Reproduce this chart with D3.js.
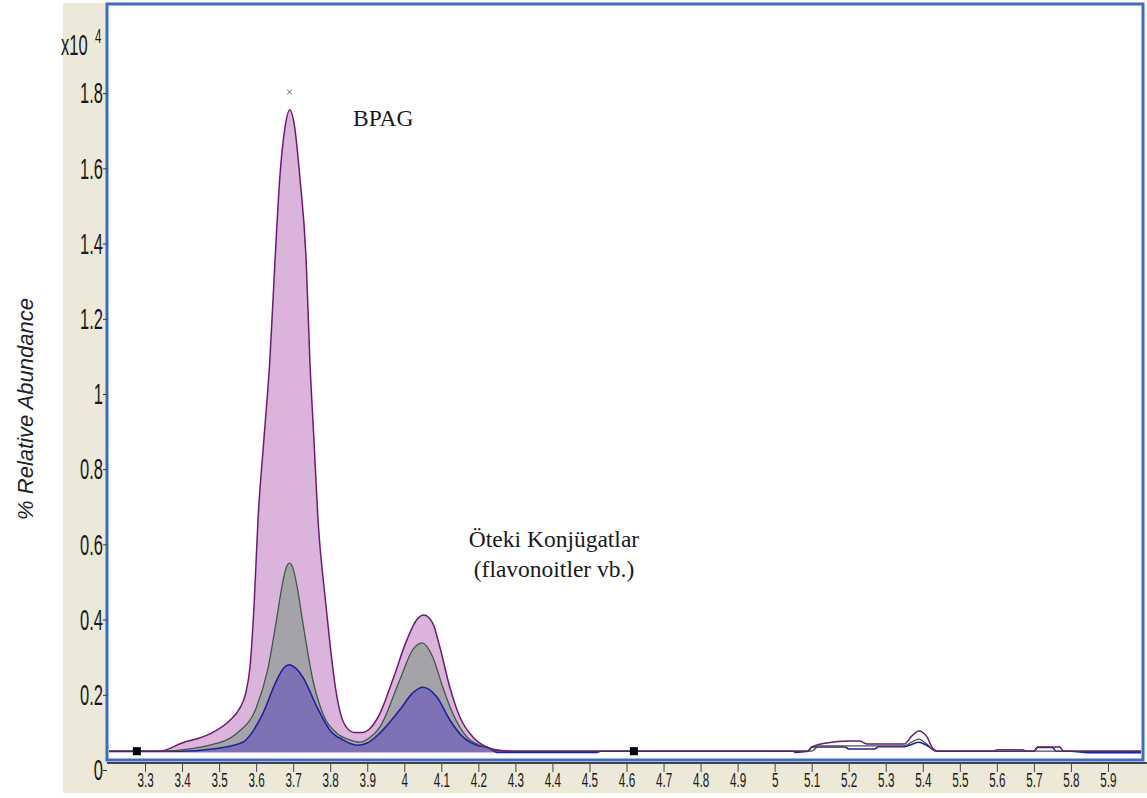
<!DOCTYPE html>
<html>
<head>
<meta charset="utf-8">
<script src="https://cdn.jsdelivr.net/npm/d3@7"></script>
<style>
body { margin: 0; background: #ffffff; }
svg { display: block; }
</style>
</head>
<body>
<div id="chart"></div>
<script>
// retention time ticks (min) and abundance ticks (x10^4)
var rtTicks = [3.3, 3.4, 3.5, 3.6, 3.7, 3.8, 3.9, 4, 4.1, 4.2, 4.3, 4.4, 4.5, 4.6, 4.7, 4.8, 4.9,
	5, 5.1, 5.2, 5.3, 5.4, 5.5, 5.6, 5.7, 5.8, 5.9];
var abundanceTicks = [0, 0.2, 0.4, 0.6, 0.8, 1, 1.2, 1.4, 1.6, 1.8];

// traces: [retention time, abundance x10^4]
var bpagTrace = [
	[3.20, 0.05], [3.34, 0.05], [3.40, 0.072], [3.475, 0.096], [3.53, 0.133], [3.555, 0.163],
	[3.572, 0.205], [3.584, 0.28], [3.594, 0.43], [3.605, 0.665], [3.621, 0.88], [3.637, 1.09],
	[3.651, 1.356], [3.664, 1.577], [3.678, 1.71], [3.691, 1.755], [3.704, 1.71], [3.718, 1.577],
	[3.735, 1.356], [3.745, 1.09], [3.756, 0.88], [3.767, 0.665], [3.785, 0.47], [3.80, 0.33],
	[3.814, 0.22], [3.828, 0.15], [3.845, 0.112], [3.865, 0.10], [3.888, 0.10], [3.91, 0.113],
	[3.934, 0.15], [3.969, 0.24], [4.007, 0.346], [4.034, 0.40], [4.053, 0.412], [4.077, 0.39],
	[4.096, 0.327], [4.123, 0.22], [4.150, 0.141], [4.185, 0.088], [4.223, 0.061], [4.239, 0.055],
	[4.30, 0.05],
	[5.09, 0.05], [5.10, 0.061], [5.14, 0.072], [5.20, 0.077], [5.23, 0.077], [5.25, 0.069],
	[5.35, 0.069], [5.37, 0.09], [5.389, 0.104], [5.41, 0.09], [5.427, 0.058], [5.44, 0.05],
	[5.70, 0.05], [5.71, 0.061], [5.77, 0.061], [5.78, 0.05], [6.0, 0.05]
];
var greyTrace = [
	[3.20, 0.05], [3.348, 0.05], [3.42, 0.056], [3.475, 0.066], [3.548, 0.098], [3.60, 0.165],
	[3.632, 0.27], [3.655, 0.40], [3.67, 0.49], [3.68, 0.535], [3.69, 0.55], [3.70, 0.535],
	[3.712, 0.48], [3.728, 0.38], [3.753, 0.24], [3.780, 0.15], [3.818, 0.098], [3.853, 0.08],
	[3.880, 0.074], [3.905, 0.085], [3.934, 0.114], [3.988, 0.24], [4.023, 0.32], [4.048, 0.338],
	[4.077, 0.30], [4.104, 0.22], [4.131, 0.15], [4.169, 0.088], [4.204, 0.066], [4.231, 0.058],
	[4.26, 0.05],
	[5.10, 0.05], [5.12, 0.064], [5.35, 0.064], [5.37, 0.074], [5.389, 0.082], [5.41, 0.07],
	[5.435, 0.05], [5.59, 0.05], [5.60, 0.054], [5.67, 0.054], [5.68, 0.05], [6.0, 0.05]
];
var blueTrace = [
	[3.20, 0.05], [3.40, 0.05], [3.475, 0.055], [3.564, 0.074], [3.618, 0.15], [3.656, 0.24],
	[3.675, 0.272], [3.689, 0.28], [3.705, 0.272], [3.726, 0.247], [3.764, 0.168], [3.799, 0.106],
	[3.834, 0.08], [3.872, 0.066], [3.90, 0.072], [3.934, 0.098], [3.988, 0.16], [4.023, 0.205],
	[4.05, 0.22], [4.088, 0.194], [4.123, 0.133], [4.158, 0.088], [4.196, 0.066], [4.231, 0.058],
	[4.25, 0.047], [4.52, 0.047], [4.53, 0.05], [5.05, 0.05], [5.055, 0.047], [5.09, 0.05],
	[5.10, 0.061], [5.19, 0.061], [5.20, 0.056], [5.27, 0.056], [5.28, 0.062], [5.35, 0.062],
	[5.37, 0.068], [5.389, 0.074], [5.41, 0.066], [5.438, 0.05], [5.70, 0.05], [5.71, 0.06],
	[5.75, 0.06], [5.76, 0.05], [5.80, 0.05], [5.846, 0.046], [6.0, 0.046]
];

var markerTimes = [3.278, 4.62];
var markerLevel = 0.05;
var apexMark = [3.69, 1.803];
var fillFloor = 0.047;
var fillEnd = 4.3;

var width = 1147, height = 798;

var svg = d3.select("#chart")
	.append("svg")
		.attr("width", width)
		.attr("height", height);

var x = d3.scaleLinear().domain([3.2, 6.0]).range([108, 1145]);
var y = d3.scaleLinear().domain([0, 2]).range([770, 18]);

// beige panel strips (left and bottom)
svg.append("rect").attr("x", 63).attr("y", 3).attr("width", 45).attr("height", 790).attr("fill", "#ece9d8");
svg.append("rect").attr("x", 63).attr("y", 762).attr("width", 1084).attr("height", 31).attr("fill", "#ece9d8");

// plot frame
svg.append("rect")
	.attr("x", 107).attr("y", 4).attr("width", 1036).attr("height", 756)
	.attr("fill", "#ffffff")
	.attr("stroke", "#3a6cc8")
	.attr("stroke-width", 3);

svg.append("clipPath").attr("id", "plotclip")
	.append("rect").attr("x", 109).attr("y", 6).attr("width", 1032).attr("height", 752);

var plot = svg.append("g").attr("clip-path", "url(#plotclip)");

var traces = [
	{ data: bpagTrace, fill: "#dab4da", stroke: "#6e1a72", sw: 1.5 },
	{ data: greyTrace, fill: "#a3a3a8", stroke: "#3d5a48", sw: 1.3 },
	{ data: blueTrace, fill: "#7f72b4", stroke: "#1f1fa8", sw: 1.6 }
];

var area = d3.area()
	.x(function(d) { return x(d[0]); })
	.y0(y(fillFloor))
	.y1(function(d) { return y(d[1]); })
	.curve(d3.curveMonotoneX);

var line = d3.line()
	.x(function(d) { return x(d[0]); })
	.y(function(d) { return y(d[1]); })
	.curve(d3.curveMonotoneX);

// filled areas only under the two main peaks
traces.forEach(function(t) {
	plot.append("path")
		.datum(t.data.filter(function(d) { return d[0] <= fillEnd; }))
		.attr("d", area)
		.attr("fill", t.fill);
});

// outlines, pink last so it sits on the common baseline
traces.slice().reverse().forEach(function(t) {
	plot.append("path")
		.datum(t.data)
		.attr("d", line)
		.attr("fill", "none")
		.attr("stroke", t.stroke)
		.attr("stroke-width", t.sw);
});

// integration markers
plot.selectAll(".marker")
	.data(markerTimes).enter()
	.append("rect")
		.attr("class", "marker")
		.attr("x", function(d) { return x(d) - 4; })
		.attr("y", y(markerLevel) - 4)
		.attr("width", 8).attr("height", 8)
		.attr("fill", "#000");

// apex cross
var ax = x(apexMark[0]), ay = y(apexMark[1]);
plot.append("path")
	.attr("d", "M" + (ax - 2.5) + "," + (ay - 2.5) + "L" + (ax + 2.5) + "," + (ay + 2.5) +
		"M" + (ax + 2.5) + "," + (ay - 2.5) + "L" + (ax - 2.5) + "," + (ay + 2.5))
	.attr("stroke", "#7a5a7a").attr("stroke-width", 1);

// y axis
var yAxis = svg.append("g")
	.attr("transform", "translate(107,0)")
	.style("color", "#333")
	.call(d3.axisLeft(y).tickValues(abundanceTicks).tickFormat(d3.format("~g")).tickSize(4).tickPadding(0));
yAxis.select(".domain").remove();
yAxis.selectAll("text")
	.attr("x", -4 / 0.55)
	.attr("transform", "scale(0.55,1)")
	.style("font-family", "'Liberation Sans', Arial, sans-serif")
	.style("font-size", "30px")
	.style("fill", "#1a1a1a");

// x axis
var xAxis = svg.append("g")
	.attr("transform", "translate(0,763)")
	.style("color", "#444")
	.call(d3.axisBottom(x).tickValues(rtTicks).tickFormat(d3.format("~g")).tickSize(9).tickPadding(1).tickSizeOuter(0));
xAxis.select(".domain").attr("stroke-width", 2).attr("d", "M107,0H1147");
xAxis.selectAll("text")
	.attr("transform", "scale(0.6,1)")
	.attr("x", 0)
	.style("font-family", "'Liberation Sans', Arial, sans-serif")
	.style("font-size", "19.5px")
	.style("fill", "#1a1a1a");

// exponent label
svg.append("text")
	.attr("transform", "translate(61,55) scale(0.55,1)")
	.style("font-family", "'Liberation Sans', Arial, sans-serif")
	.style("font-size", "30px")
	.style("fill", "#1a1a1a")
	.text("x10");
svg.append("text")
	.attr("transform", "translate(95,43) scale(0.55,1)")
	.style("font-family", "'Liberation Sans', Arial, sans-serif")
	.style("font-size", "21px")
	.style("fill", "#1a1a1a")
	.text("4");

// peak annotations
var serif = "'Liberation Serif', 'Times New Roman', serif";
svg.append("text")
	.attr("x", 353).attr("y", 126)
	.style("font-family", serif).style("font-size", "23.5px").style("fill", "#1a1a1a")
	.text("BPAG");
svg.append("text")
	.attr("x", 554).attr("y", 547)
	.attr("text-anchor", "middle")
	.style("font-family", serif).style("font-size", "23.5px").style("fill", "#1a1a1a")
	.text("Öteki Konjügatlar");
svg.append("text")
	.attr("x", 554).attr("y", 577)
	.attr("text-anchor", "middle")
	.style("font-family", serif).style("font-size", "23.5px").style("fill", "#1a1a1a")
	.text("(flavonoitler vb.)");

// y axis title
svg.append("text")
	.attr("transform", "translate(33,409) rotate(-90)")
	.attr("text-anchor", "middle")
	.style("font-family", "'Liberation Sans', Arial, sans-serif")
	.style("font-style", "italic")
	.style("font-size", "22px")
	.style("fill", "#222")
	.text("% Relative Abundance");
</script>
</body>
</html>
